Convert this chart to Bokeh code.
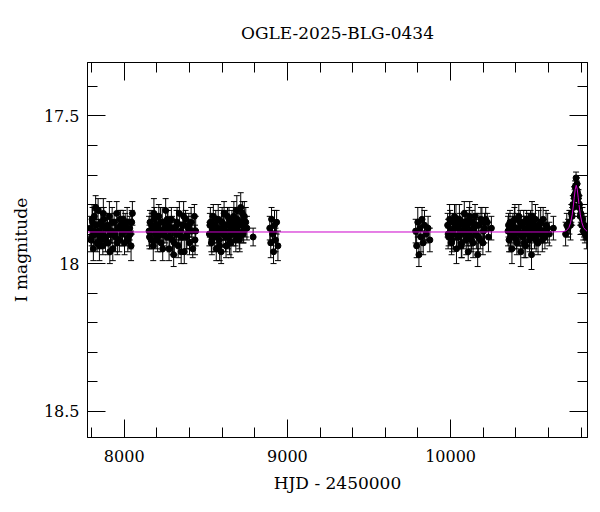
from bokeh.plotting import figure
from bokeh.models import Range1d, FixedTicker, LinearAxis, Whisker, TeeHead, ColumnDataSource
from bokeh.embed import file_html
from bokeh.resources import INLINE

# ---- data ----
s1_t = [7792, 7800, 7806, 7811, 7817, 7822, 7828, 7834, 7840, 7845, 7851, 7857, 7863, 7869, 7875, 7882, 7888, 7895, 7902, 7909, 7916, 7923, 7930, 7938, 7946, 7954, 7962, 7970, 7978, 7986, 7994, 8002, 8010, 8018, 8026, 8034, 8042, 8050,
        7796, 7803, 7814, 7825, 7837, 7848, 7860, 7872, 7885, 7898, 7912, 7926, 7942, 7958, 7974, 7990, 8006, 8022, 8038, 8046]
s1_m = [17.88, 17.91, 17.86, 17.95, 17.84, 17.90, 17.87, 17.93, 17.82, 17.89, 17.92, 17.86, 17.90, 17.94, 17.85, 17.88, 17.91, 17.87, 17.93, 17.84, 17.90, 17.89, 17.95, 17.86, 17.91, 17.83, 17.88, 17.92, 17.87, 17.90, 17.85, 17.93, 17.89, 17.86, 17.91, 17.88, 17.94, 17.83,
        17.92, 17.85, 17.89, 17.81, 17.90, 17.94, 17.87, 17.83, 17.92, 17.88, 17.96, 17.86, 17.90, 17.93, 17.85, 17.89, 17.87, 17.92, 17.90, 17.86]
s1_e = [0.04, 0.03, 0.05, 0.04, 0.03, 0.04, 0.05, 0.03, 0.04, 0.04, 0.03, 0.05, 0.04, 0.03, 0.04, 0.05, 0.03, 0.04, 0.04, 0.05, 0.03, 0.04, 0.04, 0.03, 0.05, 0.04, 0.03, 0.04, 0.05, 0.04, 0.03, 0.04, 0.04, 0.05, 0.03, 0.04, 0.05, 0.04,
        0.04, 0.05, 0.04, 0.04, 0.03, 0.05, 0.04, 0.05, 0.04, 0.03, 0.04, 0.05, 0.04, 0.04, 0.03, 0.05, 0.04, 0.04, 0.05, 0.04]

s2_t = [8152, 8158, 8165, 8172, 8178, 8185, 8192, 8198, 8205, 8212, 8219, 8226, 8233, 8240, 8247, 8254, 8261, 8268, 8275, 8282, 8289, 8296, 8303, 8310, 8317, 8324, 8331, 8338, 8345, 8352, 8360, 8368, 8376, 8384, 8392, 8400, 8410, 8420, 8430, 8438,
        8155, 8168, 8182, 8195, 8209, 8222, 8236, 8250, 8264, 8279, 8293, 8307, 8321, 8335, 8349, 8364, 8380, 8396, 8415, 8434]
s2_m = [17.89, 17.86, 17.92, 17.88, 17.94, 17.85, 17.90, 17.87, 17.91, 17.84, 17.89, 17.93, 17.86, 17.90, 17.88, 17.82, 17.91, 17.87, 17.95, 17.89, 17.85, 17.92, 17.97, 17.88, 17.90, 17.86, 17.94, 17.83, 17.89, 17.91, 17.87, 17.96, 17.85, 17.90, 17.88, 17.93, 17.86, 17.95, 17.84, 17.89,
        17.91, 17.87, 17.83, 17.92, 17.88, 17.86, 17.95, 17.89, 17.85, 17.91, 17.88, 17.93, 17.87, 17.90, 17.96, 17.84, 17.91, 17.87, 17.89, 17.92]
s2_e = [0.05, 0.04, 0.03, 0.04, 0.05, 0.04, 0.03, 0.04, 0.05, 0.04, 0.04, 0.03, 0.05, 0.04, 0.03, 0.04, 0.04, 0.05, 0.04, 0.03, 0.04, 0.05, 0.04, 0.03, 0.04, 0.05, 0.04, 0.04, 0.03, 0.05, 0.04, 0.04, 0.03, 0.05, 0.04, 0.04, 0.05, 0.03, 0.04, 0.05,
        0.04, 0.04, 0.05, 0.03, 0.04, 0.05, 0.04, 0.04, 0.03, 0.05, 0.04, 0.04, 0.05, 0.03, 0.04, 0.05, 0.04, 0.04, 0.03, 0.05]

s3_t = [8522, 8528, 8534, 8540, 8546, 8552, 8558, 8564, 8570, 8576, 8582, 8588, 8594, 8600, 8606, 8612, 8618, 8624, 8630, 8636, 8642, 8648, 8654, 8660, 8666, 8672, 8678, 8684, 8690, 8696, 8702, 8708, 8714, 8720, 8728, 8736, 8752, 8790,
        8525, 8537, 8549, 8561, 8573, 8585, 8597, 8609, 8621, 8633, 8645, 8657, 8669, 8681, 8693, 8705, 8717, 8724, 8732, 8745]
s3_m = [17.90, 17.86, 17.93, 17.88, 17.84, 17.91, 17.87, 17.95, 17.89, 17.85, 17.92, 17.88, 17.96, 17.86, 17.90, 17.83, 17.89, 17.94, 17.87, 17.91, 17.85, 17.89, 17.93, 17.86, 17.90, 17.84, 17.88, 17.92, 17.82, 17.89, 17.87, 17.91, 17.81, 17.86, 17.90, 17.84, 17.88, 17.91,
        17.87, 17.92, 17.89, 17.85, 17.90, 17.94, 17.86, 17.88, 17.91, 17.84, 17.93, 17.88, 17.86, 17.90, 17.85, 17.92, 17.87, 17.83, 17.89, 17.86]
s3_e = [0.04, 0.05, 0.03, 0.04, 0.04, 0.05, 0.03, 0.04, 0.04, 0.05, 0.04, 0.03, 0.04, 0.05, 0.04, 0.04, 0.03, 0.04, 0.05, 0.04, 0.04, 0.03, 0.05, 0.04, 0.04, 0.05, 0.03, 0.04, 0.05, 0.04, 0.04, 0.05, 0.05, 0.04, 0.03, 0.05, 0.04, 0.03,
        0.04, 0.05, 0.04, 0.03, 0.04, 0.05, 0.04, 0.04, 0.05, 0.03, 0.04, 0.04, 0.05, 0.04, 0.04, 0.03, 0.05, 0.04, 0.04, 0.05]

s4_t = [8892, 8898, 8903, 8909, 8915, 8921, 8927, 8934, 8942]
s4_m = [17.88, 17.93, 17.85, 17.90, 17.96, 17.87, 17.92, 17.86, 17.94]
s4_e = [0.04, 0.05, 0.04, 0.03, 0.04, 0.05, 0.04, 0.04, 0.05]

s5_t = [9786, 9792, 9799, 9806, 9812, 9818, 9825, 9832, 9840, 9850, 9862, 9873]
s5_m = [17.89, 17.94, 17.86, 17.97, 17.88, 17.91, 17.85, 17.93, 17.87, 17.90, 17.88, 17.92]
s5_e = [0.04, 0.04, 0.05, 0.04, 0.03, 0.05, 0.04, 0.04, 0.05, 0.03, 0.04, 0.04]

s6_t = [9982, 9988, 9994, 10000, 10006, 10012, 10018, 10024, 10030, 10036, 10042, 10048, 10054, 10060, 10066, 10072, 10078, 10084, 10090, 10096, 10102, 10108, 10114, 10120, 10126, 10132, 10138, 10144, 10150, 10158, 10166, 10174, 10182, 10192, 10202, 10215, 10232, 10250,
        9985, 9997, 10009, 10021, 10033, 10045, 10057, 10069, 10081, 10093, 10105, 10117, 10129, 10141, 10154, 10170, 10186, 10198, 10208, 10225]
s6_m = [17.87, 17.91, 17.85, 17.89, 17.93, 17.86, 17.90, 17.84, 17.88, 17.95, 17.87, 17.91, 17.85, 17.89, 17.94, 17.86, 17.90, 17.83, 17.88, 17.92, 17.87, 17.96, 17.85, 17.89, 17.91, 17.86, 17.93, 17.88, 17.84, 17.90, 17.97, 17.87, 17.92, 17.86, 17.89, 17.85, 17.91, 17.88,
        17.90, 17.86, 17.92, 17.88, 17.85, 17.91, 17.87, 17.93, 17.89, 17.86, 17.90, 17.84, 17.92, 17.88, 17.87, 17.91, 17.85, 17.93, 17.88, 17.86]
s6_e = [0.04, 0.03, 0.05, 0.04, 0.04, 0.03, 0.05, 0.04, 0.04, 0.05, 0.03, 0.04, 0.05, 0.04, 0.04, 0.03, 0.05, 0.04, 0.04, 0.05, 0.04, 0.03, 0.04, 0.05, 0.04, 0.04, 0.05, 0.03, 0.04, 0.05, 0.04, 0.04, 0.03, 0.05, 0.04, 0.04, 0.05, 0.04,
        0.05, 0.04, 0.04, 0.03, 0.05, 0.04, 0.04, 0.05, 0.03, 0.04, 0.04, 0.05, 0.04, 0.03, 0.04, 0.05, 0.04, 0.04, 0.05, 0.03]

s7_t = [10352, 10358, 10364, 10370, 10376, 10382, 10388, 10394, 10400, 10406, 10412, 10418, 10424, 10430, 10436, 10442, 10448, 10454, 10460, 10466, 10472, 10478, 10484, 10490, 10496, 10502, 10508, 10514, 10520, 10528, 10536, 10544, 10552, 10562, 10572, 10585, 10605, 10630,
        10355, 10367, 10379, 10391, 10403, 10415, 10427, 10439, 10451, 10463, 10475, 10487, 10499, 10511, 10524, 10540, 10556, 10567, 10578, 10595]
s7_m = [17.89, 17.92, 17.86, 17.90, 17.95, 17.87, 17.91, 17.85, 17.89, 17.93, 17.88, 17.84, 17.90, 17.96, 17.87, 17.91, 17.86, 17.89, 17.94, 17.85, 17.90, 17.88, 17.92, 17.86, 17.97, 17.89, 17.87, 17.91, 17.85, 17.90, 17.93, 17.88, 17.86, 17.92, 17.89, 17.87, 17.90, 17.88,
        17.87, 17.91, 17.88, 17.85, 17.92, 17.89, 17.86, 17.90, 17.93, 17.88, 17.86, 17.91, 17.84, 17.89, 17.92, 17.87, 17.90, 17.85, 17.91, 17.88]
s7_e = [0.05, 0.04, 0.04, 0.03, 0.05, 0.04, 0.04, 0.05, 0.03, 0.04, 0.05, 0.04, 0.04, 0.05, 0.03, 0.04, 0.04, 0.05, 0.04, 0.03, 0.04, 0.05, 0.04, 0.04, 0.05, 0.03, 0.04, 0.04, 0.05, 0.04, 0.04, 0.03, 0.05, 0.04, 0.04, 0.05, 0.04, 0.04,
        0.04, 0.05, 0.04, 0.04, 0.03, 0.05, 0.04, 0.04, 0.05, 0.04, 0.03, 0.04, 0.05, 0.04, 0.04, 0.05, 0.03, 0.04, 0.04, 0.05]

ev_t = [10705, 10712, 10720, 10728, 10735, 10740, 10745, 10749, 10753, 10757, 10760, 10763, 10766, 10769, 10772, 10775, 10778, 10781, 10784, 10787, 10790, 10794, 10798, 10803, 10808, 10813, 10818, 10823, 10828, 10834]
ev_m = [17.90, 17.87, 17.88, 17.86, 17.87, 17.83, 17.84, 17.80, 17.81, 17.77, 17.78, 17.74, 17.76, 17.71, 17.75, 17.73, 17.76, 17.78, 17.77, 17.81, 17.80, 17.84, 17.83, 17.87, 17.85, 17.89, 17.87, 17.90, 17.88, 17.91]
ev_e = [0.04, 0.04, 0.03, 0.04, 0.05, 0.03, 0.03, 0.03, 0.03, 0.03, 0.03, 0.02, 0.03, 0.02, 0.03, 0.02, 0.03, 0.03, 0.02, 0.03, 0.03, 0.03, 0.03, 0.03, 0.04, 0.03, 0.04, 0.03, 0.04, 0.04]

model_t = [7775, 10600, 10690, 10710, 10725, 10735, 10745, 10752, 10758, 10764, 10770, 10776, 10782, 10788, 10795, 10805, 10815, 10830, 10839]
model_m = [17.893, 17.893, 17.892, 17.888, 17.878, 17.862, 17.835, 17.805, 17.775, 17.748, 17.735, 17.748, 17.775, 17.805, 17.835, 17.862, 17.878, 17.888, 17.891]

title_text = "OGLE-2025-BLG-0434"
x_label = "HJD - 2450000"
y_label = "I magnitude"
x_major = [8000, 9000, 10000]
x_minor = [7800 + 200 * i for i in range(16)]
y_major = [17.5, 18.0, 18.5]
y_minor = [17.4, 17.5, 17.6, 17.7, 17.8, 17.9, 18.0, 18.1, 18.2, 18.3, 18.4, 18.5]

# ---- build ----
t_all = s1_t + s2_t + s3_t + s4_t + s5_t + s6_t + s7_t + ev_t
m_all = s1_m + s2_m + s3_m + s4_m + s5_m + s6_m + s7_m + ev_m
e_all = s1_e + s2_e + s3_e + s4_e + s5_e + s6_e + s7_e + ev_e
src = ColumnDataSource(dict(
    t=t_all, m=m_all,
    up=[m - e for m, e in zip(m_all, e_all)],
    lo=[m + e for m, e in zip(m_all, e_all)],
))

FONT = "DejaVu Serif"

p = figure(width=592, height=504, output_backend="svg", toolbar_location=None,
           x_range=Range1d(7775, 10839), y_range=Range1d(18.589, 17.319),
           min_border_left=87, min_border_right=5, min_border_top=62, min_border_bottom=67,
           title=title_text)
p.background_fill_color = "white"
p.border_fill_color = "white"
p.outline_line_color = "black"
p.outline_line_width = 1
p.xgrid.visible = False
p.ygrid.visible = False

p.title.align = "center"
p.title.text_font = FONT
p.title.text_font_style = "normal"
p.title.text_font_size = "17px"
p.title.text_color = "black"
p.title.standoff = 39


def style(ax, labels=True):
    ax.axis_line_color = "black"
    ax.major_tick_line_color = "black"
    ax.minor_tick_line_color = "black"
    ax.major_tick_in = 18
    ax.major_tick_out = 0
    ax.minor_tick_in = 10
    ax.minor_tick_out = 0
    if labels:
        ax.major_label_text_font = FONT
        ax.major_label_text_font_size = "16px"
        ax.major_label_text_color = "black"
        ax.axis_label_text_font = FONT
        ax.axis_label_text_font_size = "17px"
        ax.axis_label_text_font_style = "normal"
        ax.axis_label_text_color = "black"


xa = p.xaxis[0]
xa.ticker = FixedTicker(ticks=x_major, minor_ticks=x_minor)
style(xa)
xa.axis_label = x_label
xa.major_label_standoff = 12
xa.axis_label_standoff = 8

ya = p.yaxis[0]
ya.ticker = FixedTicker(ticks=y_major, minor_ticks=y_minor)
style(ya)
ya.axis_label = y_label
ya.major_label_standoff = 8
ya.axis_label_standoff = 10
ya.major_label_overrides = {17.5: "17.5", 18.0: "18", 18.5: "18.5"}

# mirrored tick-only axes on top and right
top = LinearAxis(ticker=FixedTicker(ticks=x_major, minor_ticks=x_minor))
style(top, labels=False)
top.major_label_overrides = {v: "" for v in x_major}
top.major_label_standoff = 0
p.add_layout(top, "above")
right = LinearAxis(ticker=FixedTicker(ticks=y_major, minor_ticks=y_minor))
style(right, labels=False)
right.major_label_overrides = {v: "" for v in y_major}
right.major_label_standoff = 0
p.add_layout(right, "right")

wh = Whisker(source=src, base="t", upper="up", lower="lo", dimension="height",
             line_color="black", line_width=1,
             upper_head=TeeHead(size=6, line_color="black", line_width=1),
             lower_head=TeeHead(size=6, line_color="black", line_width=1))
wh.level = "underlay"
p.add_layout(wh)

p.scatter("t", "m", source=src, size=6, color="black")
p.line(model_t, model_m, line_color="#cc00cc", line_width=1)

open("out.html", "w").write(file_html(p, INLINE))
